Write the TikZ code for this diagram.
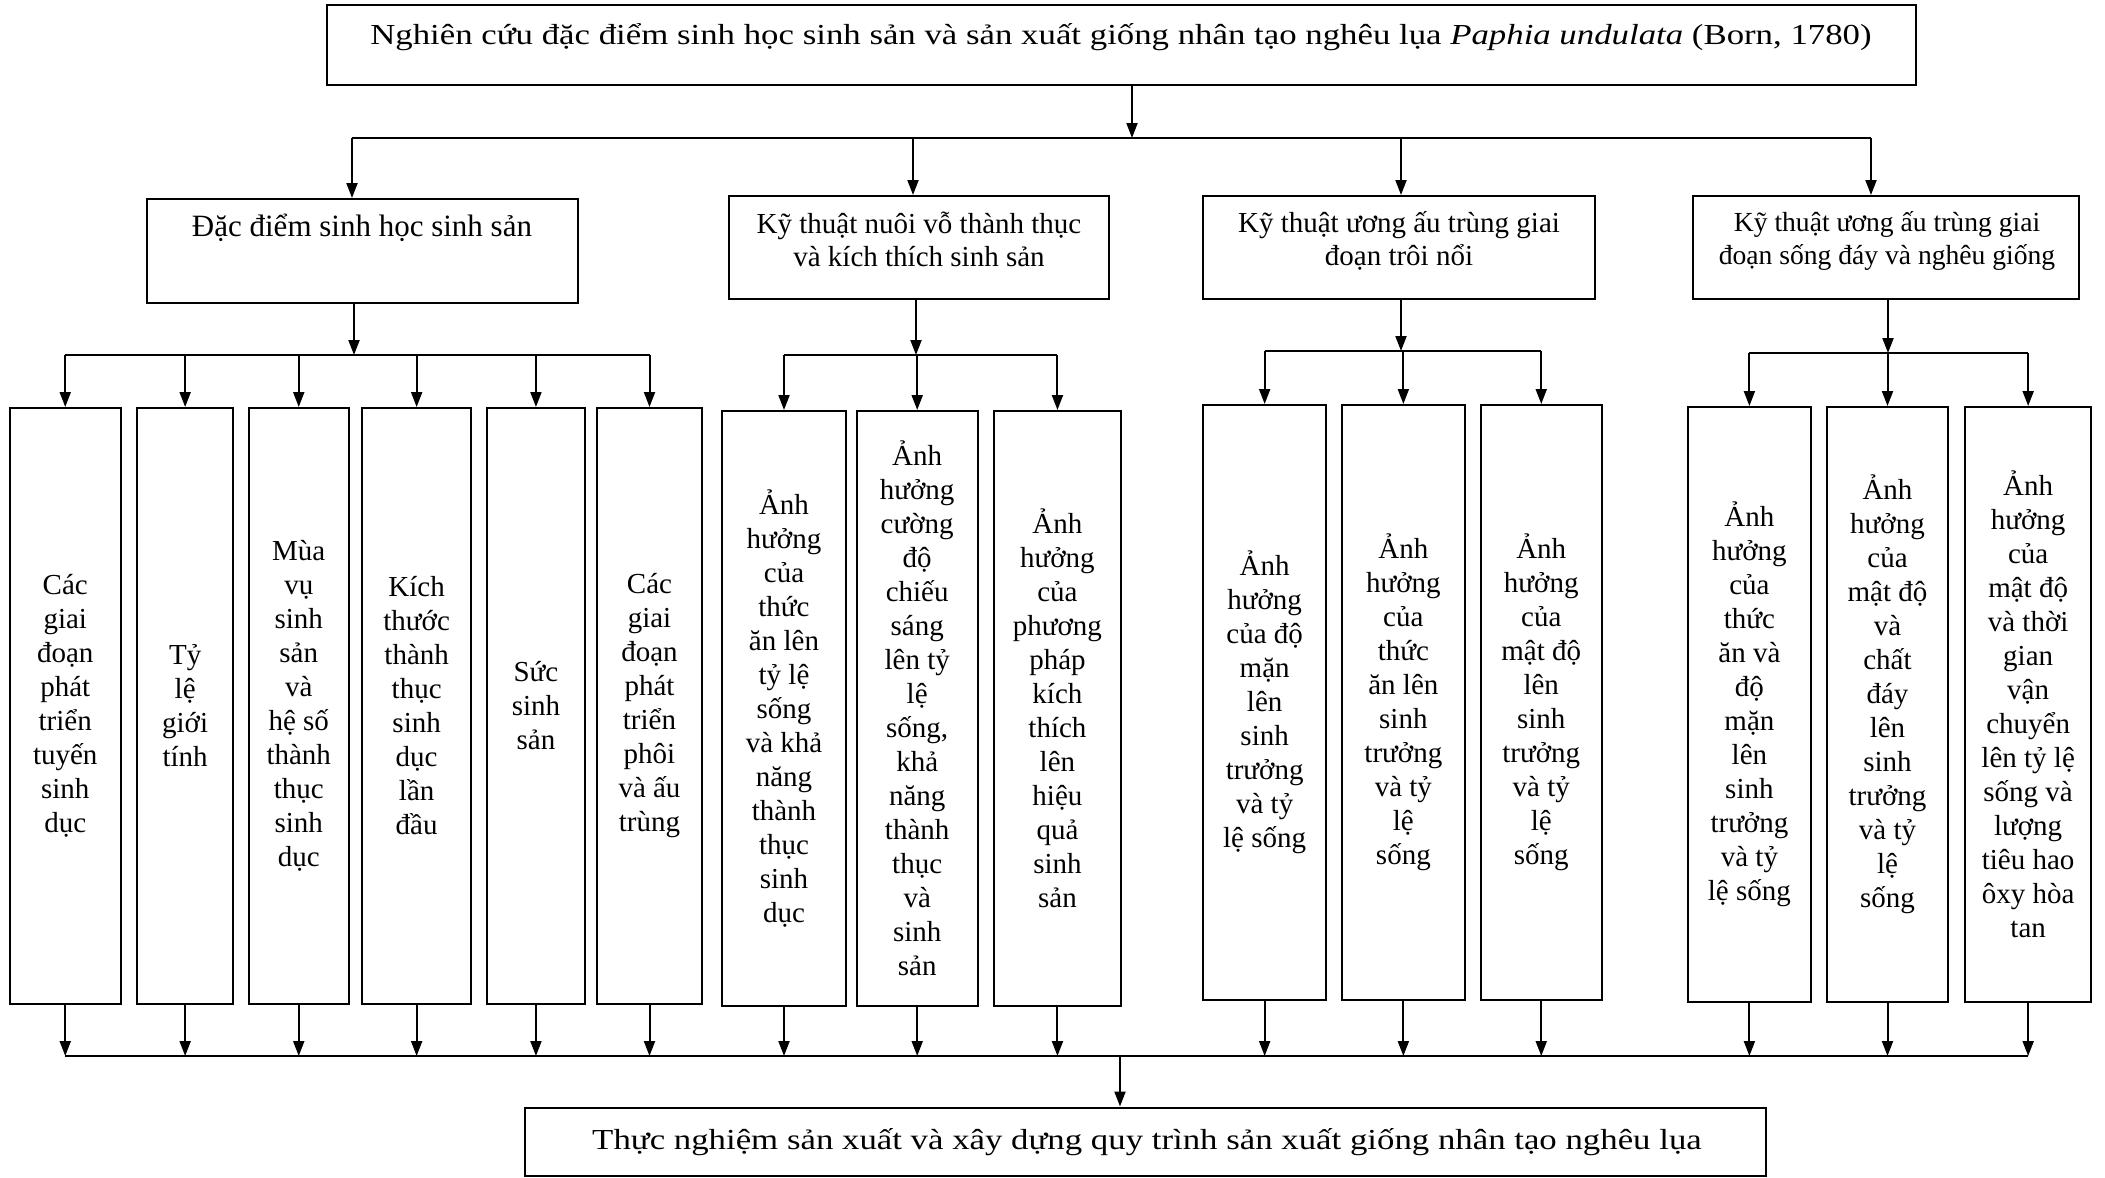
\documentclass[tikz,border=0pt]{standalone}
\usepackage{fontspec}
\setmainfont{Liberation Serif}
\newfontfamily\widefont[FakeStretch=1.2]{Liberation Serif}
\usetikzlibrary{arrows.meta}
\begin{document}
\begin{tikzpicture}[x=0.5pt,y=-0.5pt,
  line width=1pt,
  box/.style={draw, line width=1pt, inner sep=0pt, rectangle},
  leaf/.style={box, align=center, font=\fontsize{14.5}{17}\selectfont},
  txt/.style={inner sep=0pt, align=center, font=\fontsize{14.5}{16.5}\selectfont},
  arr/.style={-{Triangle[length=7.5pt,width=5.5pt]}}]
\useasboundingbox (0,0) rectangle (2105,1178);

% top
\node[box, minimum width=794.5pt, minimum height=40pt] (T) at (1121.5,45) {};
\node[txt] (Tt) at (1121,37) {\widefont Nghiên cứu đặc điểm sinh học sinh sản và sản xuất giống nhân tạo nghêu lụa \textit{Paphia undulata} (Born, 1780)};

% headers
\node[box, minimum width=215.5pt, minimum height=52pt] (A1) at (362.5,251) {};
\node[txt, font=\fontsize{15.5}{17}\selectfont] (A1t) at (362,228) {Đặc điểm sinh học sinh sản};
\node[box, minimum width=190pt, minimum height=51.5pt] (A2) at (919,247.5) {};
\node[txt] (A2t) at (919,239.5) {Kỹ thuật nuôi vỗ thành thục\\và kích thích sinh sản};
\node[box, minimum width=196pt, minimum height=51.5pt] (A3) at (1399,247.5) {};
\node[txt] (A3t) at (1399,240.5) {Kỹ thuật ương ấu trùng giai\\đoạn trôi nổi};
\node[box, minimum width=193pt, minimum height=51.5pt] (A4) at (1886,247.5) {};
\node[txt, font=\fontsize{13.8}{16.5}\selectfont] (A4t) at (1887,240.5) {Kỹ thuật ương ấu trùng giai\\đoạn sống đáy và nghêu giống};

% leaves group 1
\node[leaf, minimum width=55.75pt, minimum height=298pt] (L11) at (65.25,706) {Các\\giai\\đoạn\\phát\\triển\\tuyến\\sinh\\dục};
\node[leaf, minimum width=47.85pt, minimum height=298pt] (L12) at (185.15,706) {Tỷ\\lệ\\giới\\tính};
\node[leaf, minimum width=50.25pt, minimum height=298pt] (L13) at (298.75,706) {Mùa\\vụ\\sinh\\sản\\và\\hệ số\\thành\\thục\\sinh\\dục};
\node[leaf, minimum width=54.35pt, minimum height=298pt] (L14) at (416.65,706) {Kích\\thước\\thành\\thục\\sinh\\dục\\lần\\đầu};
\node[leaf, minimum width=49.45pt, minimum height=298pt] (L15) at (535.95,706) {Sức\\sinh\\sản};
\node[leaf, minimum width=52.5pt, minimum height=298pt] (L16) at (649.5,706) {Các\\giai\\đoạn\\phát\\triển\\phôi\\và ấu\\trùng};

% leaves group 2
\node[leaf, minimum width=62pt, minimum height=297.5pt] (L21) at (784,708.5) {Ảnh\\hưởng\\của\\thức\\ăn lên\\tỷ lệ\\sống\\và khả\\năng\\thành\\thục\\sinh\\dục};
\node[leaf, minimum width=60.6pt, minimum height=297.5pt] (L22) at (917.2,708.5) {Ảnh\\hưởng\\cường\\độ\\chiếu\\sáng\\lên tỷ\\lệ\\sống,\\khả\\năng\\thành\\thục\\và\\sinh\\sản};
\node[leaf, minimum width=63.15pt, minimum height=297.5pt] (L23) at (1057.45,708.5) {Ảnh\\hưởng\\của\\phương\\pháp\\kích\\thích\\lên\\hiệu\\quả\\sinh\\sản};

% leaves group 3
\node[leaf, minimum width=61.65pt, minimum height=297.5pt] (L31) at (1264.65,702.5) {Ảnh\\hưởng\\của độ\\mặn\\lên\\sinh\\trưởng\\và tỷ\\lệ sống};
\node[leaf, minimum width=61.35pt, minimum height=297.5pt] (L32) at (1403.35,702.5) {Ảnh\\hưởng\\của\\thức\\ăn lên\\sinh\\trưởng\\và tỷ\\lệ\\sống};
\node[leaf, minimum width=60.75pt, minimum height=297.5pt] (L33) at (1541.25,702.5) {Ảnh\\hưởng\\của\\mật độ\\lên\\sinh\\trưởng\\và tỷ\\lệ\\sống};

% leaves group 4
\node[leaf, minimum width=61.9pt, minimum height=297.5pt] (L41) at (1749.4,704.5) {Ảnh\\hưởng\\của\\thức\\ăn và\\độ\\mặn\\lên\\sinh\\trưởng\\và tỷ\\lệ sống};
\node[leaf, minimum width=60.5pt, minimum height=297.5pt] (L42) at (1887.5,704.5) {Ảnh\\hưởng\\của\\mật độ\\và\\chất\\đáy\\lên\\sinh\\trưởng\\và tỷ\\lệ\\sống\\[-4pt]};
\node[leaf, minimum width=62.85pt, minimum height=297.5pt] (L43) at (2028.15,704.5) {Ảnh\\hưởng\\của\\mật độ\\và thời\\gian\\vận\\chuyển\\lên tỷ lệ\\sống và\\lượng\\tiêu hao\\ôxy hòa\\tan};

% bottom
\node[box, minimum width=620.5pt, minimum height=34.25pt] (B) at (1145.5,1141.75) {};
\node[txt] (Bt) at (1147,1142) {\widefont Thực nghiệm sản xuất và xây dựng quy trình sản xuất giống nhân tạo nghêu lụa};

% top connectors
\coordinate (t0) at (1132,138);
\coordinate (t1) at (352,138);
\coordinate (t2) at (913,138);
\coordinate (t3) at (1401,138);
\coordinate (t4) at (1871,138);
\draw[arr] (T.south -| t0) -- (t0);
\draw (t1) -- (t4);
\foreach \i in {1,2,3,4} {\draw[arr] (t\i) -- (t\i |- A\i.north);}

% sub bars
\coordinate (s1) at (354,355);
\coordinate (s2) at (916,355);
\coordinate (s3) at (1401,351);
\coordinate (s4) at (1888,353);
\foreach \i in {1,2,3,4} {\draw[arr] (A\i.south -| s\i) -- (s\i);}
\draw (L11.north |- s1) -- (L16.north |- s1);
\draw (L21.north |- s2) -- (L23.north |- s2);
\draw (L31.north |- s3) -- (L33.north |- s3);
\draw (L41.north |- s4) -- (L43.north |- s4);
\foreach \n in {L11,L12,L13,L14,L15,L16} {\draw[arr] (\n.north |- s1) -- (\n.north);}
\foreach \n in {L21,L22,L23} {\draw[arr] (\n.north |- s2) -- (\n.north);}
\foreach \n in {L31,L32,L33} {\draw[arr] (\n.north |- s3) -- (\n.north);}
\foreach \n in {L41,L42,L43} {\draw[arr] (\n.north |- s4) -- (\n.north);}

% bottom bar
\coordinate (bb) at (1120,1056);
\draw (L11.south |- bb) -- (L43.south |- bb);
\foreach \n in {L11,L12,L13,L14,L15,L16,L21,L22,L23,L31,L32,L33,L41,L42,L43} {\draw[arr] (\n.south) -- (\n.south |- bb);}
\draw[arr] (bb) -- (bb |- B.north);
\end{tikzpicture}
\end{document}
